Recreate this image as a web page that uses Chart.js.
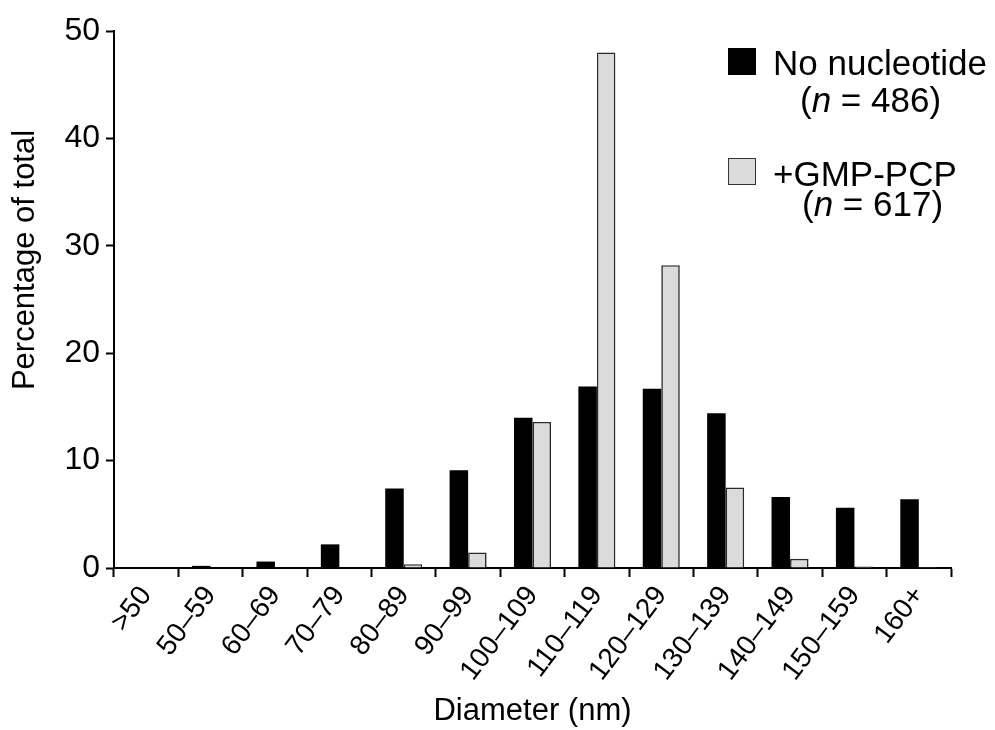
<!DOCTYPE html>
<html>
<head>
<meta charset="utf-8">
<title>Diameter distribution</title>
<script src="https://cdn.jsdelivr.net/npm/chart.js@4/dist/chart.umd.min.js"></script>
<style>
  html, body { margin: 0; padding: 0; background: #fff; }
  #wrap { position: relative; width: 995px; height: 730px; font-family: "Liberation Sans", Arial, sans-serif; color: #000; }
  #chart { position: absolute; left: 0; top: 0; }
  .key { position: absolute; width: 28px; height: 27px; box-sizing: border-box; }
  .key.dark { background: #000; }
  .key.light { background: #dadbda; border: 1.5px solid #333; }
  .txt { position: absolute; font-size: 35px; line-height: 35px; white-space: nowrap; }
</style>
</head>
<body>
<div id="wrap">
  <canvas id="chart" width="995" height="730"></canvas>
  <!-- legend -->
  <div class="key dark" style="left:728px; top:48px;"></div>
  <div class="txt" style="left:773px; top:45px;">No nucleotide</div>
  <div class="txt" style="left:800px; top:82px;">(<i>n</i> = 486)</div>
  <div class="key light" style="left:728px; top:158px;"></div>
  <div class="txt" style="left:773px; top:156px;">+GMP-PCP</div>
  <div class="txt" style="left:802px; top:186px;">(<i>n</i> = 617)</div>
</div>
<script>
// ====================================================
// data
// ====================================================
const CATEGORIES = ['>50', '50–59', '60–69', '70–79', '80–89', '90–99', '100–109',
  '110–119', '120–129', '130–139', '140–149', '150–159', '160+'];

// percentage of total
const NO_NUCLEOTIDE = [0, 0.2, 0.6, 2.2, 7.4, 9.1, 14.0, 16.9, 16.7, 14.4, 6.6, 5.6, 6.4];
const GMP_PCP = [0, 0, 0, 0, 0.35, 1.45, 13.6, 48.0, 28.2, 7.5, 0.85, 0.15, 0.1];

const Y_TICKS = [0, 10, 20, 30, 40, 50];
const X_TITLE = 'Diameter (nm)';
const Y_TITLE = 'Percentage of total';

const FONT = '"Liberation Sans", Arial, Helvetica, sans-serif';

// y title is not centred on the axis in the original, so draw it by hand
const yTitlePlugin = {
  id: 'yTitle',
  afterDraw: function (chart) {
    const ctx = chart.ctx;
    ctx.save();
    ctx.translate(25, 260);
    ctx.rotate(-Math.PI / 2);
    ctx.font = '31px ' + FONT;
    ctx.fillStyle = '#000';
    ctx.textAlign = 'center';
    ctx.textBaseline = 'middle';
    ctx.fillText(Y_TITLE, 0, 0);
    ctx.restore();
  }
};

const ctx = document.getElementById('chart').getContext('2d');
new Chart(ctx, {
  type: 'bar',
  data: {
    labels: CATEGORIES,
    datasets: [
      {
        label: 'No nucleotide',
        data: NO_NUCLEOTIDE,
        backgroundColor: '#000',
        borderWidth: 0,
        barPercentage: 1.0,
        categoryPercentage: 0.575
      },
      {
        label: '+GMP-PCP',
        data: GMP_PCP,
        backgroundColor: '#dadbda',
        borderColor: '#2a2a2a',
        borderWidth: 1.6,
        barPercentage: 1.0,
        categoryPercentage: 0.575
      }
    ]
  },
  options: {
    responsive: false,
    animation: false,
    layout: { padding: { top: 31, right: 44, left: 0, bottom: 0 } },
    plugins: {
      legend: { display: false },
      tooltip: { enabled: false }
    },
    scales: {
      x: {
        grid: {
          offset: true,
          drawOnChartArea: false,
          drawTicks: true,
          tickLength: 9,
          tickWidth: 2,
          tickColor: '#000'
        },
        border: { display: true, color: '#000', width: 2 },
        ticks: {
          color: '#000',
          font: { family: FONT, size: 28 },
          minRotation: 53,
          maxRotation: 53,
          padding: 3,
          autoSkip: false
        },
        title: {
          display: true,
          text: X_TITLE,
          color: '#000',
          font: { family: FONT, size: 31 },
          padding: { top: 0, bottom: 0 }
        },
        afterFit: function (scale) {
          scale.height = 162;
        }
      },
      y: {
        min: 0,
        max: 50,
        afterBuildTicks: function (scale) {
          scale.ticks = Y_TICKS.map(function (v) { return { value: v }; });
        },
        grid: {
          drawOnChartArea: false,
          drawTicks: true,
          tickLength: 8,
          tickWidth: 2,
          tickColor: '#000'
        },
        border: { display: true, color: '#000', width: 2 },
        ticks: {
          color: '#000',
          font: { family: FONT, size: 32 },
          padding: 6
        },
        afterFit: function (scale) {
          scale.width = 114;
        }
      }
    }
  },
  plugins: [yTitlePlugin]
});
</script>
</body>
</html>
